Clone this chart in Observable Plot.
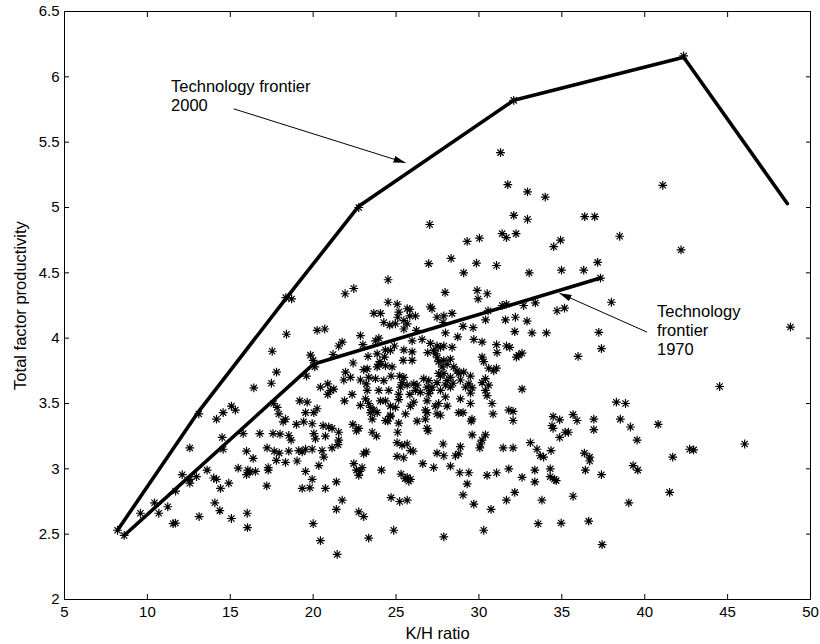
<!DOCTYPE html>
<html><head><meta charset="utf-8">
<script src="https://cdn.jsdelivr.net/npm/d3@7"></script>
<script src="https://cdn.jsdelivr.net/npm/@observablehq/plot@0.6"></script>
<style>html,body{margin:0;padding:0;background:#fff}#chart svg{display:block}</style>
</head><body><div id="chart"></div>
<script>
const xTicks = [5, 10, 15, 20, 25, 30, 35, 40, 45, 50];
const yTicks = [2, 2.5, 3, 3.5, 4, 4.5, 5, 5.5, 6, 6.5];

const frontier2000KH = [8.2, 13.1, 18.4, 22.75, 32.1, 42.35, 48.6];
const frontier2000TFP = [2.53, 3.44, 4.31, 5.01, 5.82, 6.15, 5.03];
const frontier1970KH = [8.6, 20.0, 37.33];
const frontier1970TFP = [2.49, 3.80, 4.46];

const noteText = ["Technology frontier\n2000", "Technology\nfrontier\n1970"];
const noteKH = [11.43, 40.74];
const noteTFP = [5.861, 4.066];
const arrowFromKH = [15.21, 40.14];
const arrowFromTFP = [5.755, 4.046];
const arrowToKH = [25.57, 34.86];
const arrowToTFP = [5.342, 4.344];

// scatter: [K/H ratio, TFP]
const lowLeft = [[8.2,2.53],[8.6,2.49],[9.58,2.66],[10.43,2.74],[10.69,2.66],[11.23,2.71],[11.55,2.58],[11.69,2.585],[11.7,2.83],[12.1,2.955],[12.56,2.92],[12.56,2.89],[12.96,2.94],[12.56,3.16],[13.12,2.635],[13.1,3.42],[13.6,2.99],[14.0,2.93],[14.17,2.92],[14.07,2.74],[14.37,2.68],[14.41,2.85],[14.91,2.89],[14.17,3.38],[14.57,3.43],[14.51,3.24],[14.57,3.15],[15.07,3.48],[15.31,3.45],[15.07,2.62],[15.48,3.005],[15.78,3.27],[15.98,3.135],[15.98,2.955],[16.06,2.99],[16.18,2.975],[16.02,2.66],[16.04,2.55],[16.38,3.08],[16.52,2.98],[16.42,3.62],[16.78,3.27]];
const band17to20 = [[17.22,3.16],[17.65,3.135],[17.95,3.12],[17.78,3.065],[17.29,3.01],[17.29,2.99],[17.2,2.87],[17.58,3.27],[18.0,3.265],[17.53,3.90],[17.79,3.74],[17.48,3.655],[17.62,3.50],[17.83,3.47],[17.93,3.42],[18.33,3.38],[18.19,3.36],[18.53,3.255],[18.67,3.22],[18.53,3.135],[18.33,3.05],[19.03,3.06],[19.34,3.13],[19.54,3.15],[19.94,3.15],[19.13,3.14],[19.54,3.43],[20.04,3.43],[18.99,3.34],[19.43,3.36],[19.94,3.345],[19.54,2.98],[19.94,2.92],[19.34,2.85],[19.8,2.855],[18.39,4.03],[18.35,4.31],[18.7,4.30],[19.6,3.71],[19.19,3.52],[19.64,3.51],[19.84,3.87],[20.0,3.83],[20.1,3.78]];
const lowerBand = [[20.14,3.23],[20.04,3.27],[20.74,3.25],[20.6,3.33],[20.94,3.32],[21.14,3.31],[21.54,3.28],[21.54,3.22],[21.5,3.185],[20.54,3.14],[21.14,3.16],[20.64,3.09],[20.34,3.025],[20.74,2.85],[21.4,2.90],[21.75,2.76],[21.4,2.69],[20.0,2.58],[20.44,2.45],[21.45,2.345],[22.39,3.34],[22.75,3.31],[22.61,3.29],[22.45,3.04],[22.61,2.99],[22.8,2.98],[22.95,3.01],[22.75,2.95],[23.05,3.115],[23.2,3.13],[22.75,2.67],[23.05,2.635],[23.35,2.47],[23.46,3.43],[23.86,3.43],[23.56,3.38],[24.36,3.37],[24.5,3.365],[24.66,3.41],[25.16,3.35],[23.56,3.28],[23.82,3.25],[25.1,3.28],[26.27,3.365],[26.87,3.43],[26.77,3.38],[26.87,3.31],[26.93,3.29],[27.47,3.42],[29.04,3.43],[29.53,3.365],[30.85,3.42],[32.06,3.37],[29.59,3.26],[30.39,3.26],[30.19,3.22],[24.12,2.99],[24.7,2.78],[24.86,2.53],[25.22,2.75],[25.67,2.76],[25.06,3.20],[25.36,3.18],[25.67,3.19],[25.87,3.14],[26.03,3.135],[25.06,3.095],[25.46,3.085],[25.3,2.96],[25.55,2.925],[25.67,2.935],[25.87,2.92],[25.77,2.905],[26.61,3.04],[27.27,3.01],[27.47,3.12],[27.88,3.10],[27.84,3.19],[28.28,3.02],[28.58,3.10],[28.78,3.115],[28.88,3.17],[28.84,2.97],[29.39,2.97],[29.29,2.885],[29.04,2.80],[29.69,2.73],[27.88,2.48],[30.29,2.53],[30.05,3.16],[30.09,3.19],[30.49,2.95],[31.06,2.97],[30.73,2.69],[31.46,3.16],[32.06,3.16],[31.8,3.00],[32.6,2.935],[31.66,2.76],[32.16,2.82],[33.1,3.20],[33.5,3.15],[33.7,3.10],[33.9,3.09],[33.37,2.99],[33.37,2.90],[33.57,2.58]];
const rightLower = [[34.48,3.40],[34.87,3.375],[34.41,3.33],[34.47,3.31],[35.68,3.415],[35.92,3.37],[36.93,3.38],[36.93,3.30],[38.53,3.38],[39.14,3.32],[39.54,3.22],[40.81,3.34],[34.87,3.24],[35.2,3.28],[35.4,3.28],[34.35,3.14],[34.3,3.0],[34.3,2.94],[34.66,2.91],[34.55,2.92],[36.36,3.12],[36.68,3.09],[36.68,3.06],[36.42,2.99],[37.39,2.955],[39.3,3.025],[39.58,2.99],[41.69,3.09],[42.71,3.15],[42.95,3.145],[46.03,3.19],[41.5,2.82],[33.8,2.76],[35.68,2.79],[39.04,2.74],[34.96,2.585],[36.62,2.60],[37.43,2.42]];
const upperScatter = [[22.75,5.0],[32.1,5.82],[42.35,6.16],[31.3,5.42],[31.74,5.175],[32.93,5.12],[34.0,5.08],[41.09,5.17],[32.1,4.94],[32.93,4.91],[27.03,4.87],[31.4,4.80],[31.66,4.77],[32.24,4.80],[29.29,4.74],[30.03,4.765],[26.97,4.57],[28.32,4.61],[29.85,4.574],[31.06,4.556],[29.08,4.50],[33.03,4.50],[24.52,4.447],[21.93,4.34],[22.45,4.38],[27.96,4.35],[29.89,4.365],[29.95,4.30],[30.5,4.34],[36.38,4.93],[36.98,4.93],[38.49,4.78],[42.19,4.675],[34.51,4.70],[34.92,4.75],[34.98,4.52],[36.32,4.52],[37.16,4.58],[37.33,4.46],[37.99,4.275],[34.71,4.21],[35.16,4.23],[48.79,4.085]];
const centerUpper = [[20.24,4.06],[20.7,4.07],[21.75,3.97],[21.54,3.94],[22.85,4.02],[23.0,3.95],[23.96,4.00],[23.76,3.98],[23.66,4.19],[24.06,4.19],[24.52,4.275],[25.07,4.26],[25.17,4.20],[25.1,4.16],[25.67,4.225],[25.83,4.22],[25.83,4.17],[26.17,4.17],[25.47,4.135],[25.67,4.11],[25.47,4.07],[24.26,4.12],[24.62,4.10],[24.96,4.11],[26.23,4.06],[27.07,4.24],[27.17,4.225],[27.47,4.16],[27.88,4.17],[28.38,4.19],[27.84,4.12],[27.98,4.04],[28.72,4.01],[29.04,4.09],[29.65,4.08],[29.69,3.99],[30.19,3.97],[30.4,4.14],[31.6,4.14],[32.2,4.16],[32.9,4.13],[30.55,4.21],[31.4,4.25],[31.66,4.26],[32.7,4.25],[33.4,4.27],[32.16,4.05],[33.2,4.04],[34.07,4.04],[25.97,3.98],[26.57,3.99],[27.07,3.96],[27.47,3.94],[27.68,3.93],[27.88,3.94],[28.38,3.93],[31.06,3.95],[31.66,3.94],[31.86,3.93],[37.23,4.045],[37.39,3.92],[35.98,3.86]];
const centerLower = [[20.44,3.625],[20.88,3.65],[21.04,3.60],[21.24,3.61],[20.88,3.57],[21.95,3.74],[22.25,3.70],[21.85,3.68],[22.35,3.57],[21.89,3.52],[23.26,3.765],[23.05,3.76],[23.35,3.70],[23.2,3.65],[23.26,3.60],[23.16,3.535],[23.35,3.50],[22.85,3.485],[23.76,3.69],[23.86,3.78],[23.86,3.88],[24.02,3.82],[20.24,3.46],[21.2,3.875],[22.41,3.81],[23.31,3.86],[22.85,3.68],[23.46,3.47],[23.66,3.45],[24.36,3.91],[24.3,3.855],[24.66,3.905],[24.9,3.94],[25.47,3.91],[25.43,3.83],[25.97,3.895],[25.97,3.83],[24.76,3.78],[23.96,3.80],[24.36,3.79],[26.91,3.89],[27.27,3.905],[27.4,3.88],[27.5,3.85],[28.28,3.84],[28.08,3.80],[27.57,3.82],[27.88,3.83],[27.78,3.78],[28.48,3.78],[29.08,3.74],[28.78,3.73],[30.29,3.82],[30.59,3.77],[30.19,3.855],[31.09,3.89],[31.06,3.77],[30.89,3.75],[30.39,3.69],[30.59,3.64],[30.39,3.60],[29.49,3.71],[29.39,3.65],[29.59,3.62],[29.49,3.58],[29.19,3.625],[28.88,3.68],[28.68,3.75],[26.67,3.69],[26.97,3.675],[27.17,3.625],[27.47,3.66],[27.68,3.71],[27.88,3.73],[28.08,3.675],[28.28,3.70],[27.68,3.60],[27.07,3.60],[27.98,3.64],[28.44,3.655],[27.98,3.55],[28.28,3.625],[27.57,3.73],[25.47,3.70],[25.27,3.625],[25.67,3.64],[26.07,3.65],[26.17,3.60],[25.83,3.57],[25.16,3.57],[25.22,3.71],[25.36,3.66],[26.27,3.64],[26.87,3.625],[26.47,3.585],[26.97,3.575],[24.26,3.675],[24.56,3.60],[23.96,3.60],[24.06,3.52],[24.36,3.52],[24.7,3.71],[24.66,3.48],[24.96,3.47],[24.66,3.40],[25.16,3.53],[26.07,3.51],[25.87,3.48],[25.57,3.42],[26.87,3.52],[27.57,3.50],[28.08,3.48],[26.77,3.45],[27.37,3.48],[27.68,3.41],[28.78,3.43],[28.88,3.535],[29.49,3.50],[30.79,3.50],[30.19,3.66],[30.49,3.56],[32.4,3.87],[32.6,3.885],[32.26,3.855],[32.6,3.61],[31.8,3.45],[32.06,3.44],[29.58,3.38],[38.29,3.51],[38.84,3.50],[44.52,3.63]];

const scatter = [...lowLeft, ...band17to20, ...lowerBand, ...rightLower, ...upperScatter, ...centerUpper, ...centerLower]
  .map(([kh, tfp]) => ({kh, tfp}));
const f2000 = frontier2000KH.map((kh, i) => ({kh, tfp: frontier2000TFP[i]}));
const f1970 = frontier1970KH.map((kh, i) => ({kh, tfp: frontier1970TFP[i]}));
const notes = noteText.map((t, i) => ({t, kh: noteKH[i], tfp: noteTFP[i]}));
const arrows = arrowFromKH.map((v, i) => ({x1: v, y1: arrowFromTFP[i], x2: arrowToKH[i], y2: arrowToTFP[i]}));

// MATLAB-style 8-spoke asterisk marker
const asterisk = {
  draw(context, size) {
    const r = Math.sqrt(size / Math.PI);
    const d = r * Math.SQRT1_2;
    context.moveTo(-r, 0); context.lineTo(r, 0);
    context.moveTo(0, -r); context.lineTo(0, r);
    context.moveTo(-d, -d); context.lineTo(d, d);
    context.moveTo(-d, d); context.lineTo(d, -d);
  }
};

function filledArrow(color) {
  const m = d3.create("svg:marker")
    .attr("viewBox", "-12 -3.5 12 7")
    .attr("markerWidth", 12).attr("markerHeight", 7)
    .attr("markerUnits", "userSpaceOnUse")
    .attr("orient", "auto")
    .attr("refX", 0).attr("refY", 0)
    .attr("fill", color).attr("stroke", "none");
  m.append("path").attr("d", "M-12,-3.5L0,0L-12,3.5Z");
  return m.node();
}

const fmt = d => String(d);
const chart = Plot.plot({
  width: 820,
  height: 644,
  marginLeft: 64,
  marginRight: 10,
  marginTop: 11,
  marginBottom: 45,
  style: {fontFamily: "'Liberation Sans', Arial, Helvetica, sans-serif", fontSize: "15px", color: "black", background: "white"},
  x: {domain: [5, 50]},
  y: {domain: [2, 6.5]},
  marks: [
    Plot.dot(scatter, {x: "kh", y: "tfp", symbol: asterisk, r: 4.4, fill: "none", stroke: "black", strokeWidth: 1.2}),
    Plot.line(f2000, {x: "kh", y: "tfp", stroke: "black", strokeWidth: 3.6, strokeLinejoin: "miter"}),
    Plot.line(f1970, {x: "kh", y: "tfp", stroke: "black", strokeWidth: 3.6, strokeLinejoin: "miter"}),
    Plot.link(arrows, {x1: "x1", y1: "y1", x2: "x2", y2: "y2", stroke: "black", strokeWidth: 1, markerEnd: filledArrow}),
    Plot.text(notes, {x: "kh", y: "tfp", text: "t", textAnchor: "start", lineAnchor: "middle", lineHeight: 1.15, fontSize: 16.5, fill: "black"}),
    Plot.frame({stroke: "black", strokeWidth: 1}),
    Plot.axisX(xTicks, {anchor: "bottom", tickSize: 0, tickPadding: 7, tickFormat: fmt, label: null}),
    Plot.axisX(xTicks, {anchor: "bottom", tickSize: -5, fill: "none", label: null}),
    Plot.axisX(xTicks, {anchor: "top", tickSize: -5, fill: "none", label: null}),
    Plot.axisY(yTicks, {anchor: "left", tickSize: 0, tickPadding: 5, tickFormat: fmt, label: null}),
    Plot.axisY(yTicks, {anchor: "left", tickSize: -5, fill: "none", label: null}),
    Plot.axisY(yTicks, {anchor: "right", tickSize: -5, fill: "none", label: null}),
    Plot.text(["K/H ratio"], {frameAnchor: "bottom", dy: 34, textAnchor: "middle", lineAnchor: "middle", fontSize: 16.5, fill: "black"}),
    Plot.text(["Total factor productivity"], {frameAnchor: "left", dx: -44, rotate: -90, textAnchor: "middle", lineAnchor: "middle", fontSize: 16.5, fill: "black"})
  ]
});
document.getElementById("chart").appendChild(chart);
</script>
</body></html>
